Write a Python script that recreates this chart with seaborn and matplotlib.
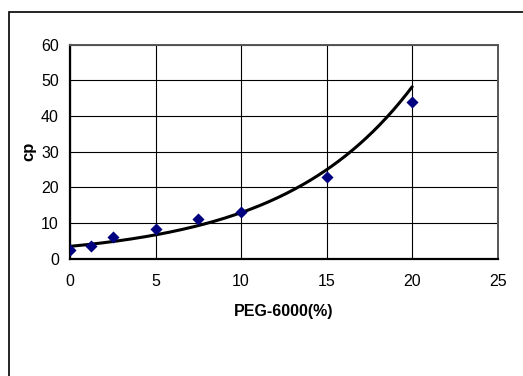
import numpy as np
import pandas as pd
import matplotlib
matplotlib.use("Agg")
import matplotlib.pyplot as plt
import seaborn as sns
from matplotlib.patches import Rectangle

# 数据
peg_pct = [0, 1.25, 2.5, 5, 7.5, 10, 15, 20]
cp_vals = [2.4, 3.6, 6.2, 8.2, 11.1, 13.2, 22.9, 44.0]
x_ticks = [0, 5, 10, 15, 20, 25]
y_ticks = [0, 10, 20, 30, 40, 50, 60]

sns.set_theme(style="white")
plt.rcParams['font.family'] = ['Liberation Sans', 'DejaVu Sans']

df = pd.DataFrame({"peg": peg_pct, "cp": cp_vals})

# 指数趋势线 (Excel 方式: ln(y) 最小二乘)
b, ln_a = np.polyfit(df["peg"], np.log(df["cp"]), 1)
fit_x = np.linspace(min(peg_pct), max(peg_pct), 200)
fit = pd.DataFrame({"peg": fit_x, "cp": np.exp(ln_a) * np.exp(b * fit_x)})

fig = plt.figure(figsize=(5.23, 3.76), dpi=100)
ax = fig.add_axes([0.1338, 0.312, 0.8178, 0.5694])

sns.lineplot(data=fit, x="peg", y="cp", color="black", linewidth=2.2, ax=ax, zorder=3)
sns.scatterplot(data=df, x="peg", y="cp", marker="D", s=38, color="#000080",
                edgecolor="#000080", linewidth=0, ax=ax, zorder=4)

ax.set_xlim(0, 25)
ax.set_ylim(0, 60)
ax.set_xticks(x_ticks)
ax.set_yticks(y_ticks)
ax.grid(True, color="black", linewidth=0.8)
ax.set_axisbelow(True)
ax.tick_params(axis="both", labelsize=11.5, length=0, colors="black")
ax.tick_params(axis="x", pad=11)
ax.tick_params(axis="y", pad=8)

for side in ["left", "bottom"]:
    ax.spines[side].set_color("black")
    ax.spines[side].set_linewidth(1.6)
for side in ["top", "right"]:
    ax.spines[side].set_color("#555555")
    ax.spines[side].set_linewidth(1.4)

ax.set_xlabel("PEG-6000(%)", fontsize=11.5, fontweight="bold", labelpad=11, color="black")
ax.set_ylabel("cp", fontsize=12, fontweight="bold", labelpad=0, color="black")
ax.yaxis.set_label_coords(-0.078, 0.5)

# 外框
fig.patches.append(Rectangle((9 / 523, -0.1), 1.5, 1.1 - 12 / 376,
                             transform=fig.transFigure, fill=False,
                             edgecolor="black", linewidth=1.2))

fig.savefig("out.png", dpi=100)
